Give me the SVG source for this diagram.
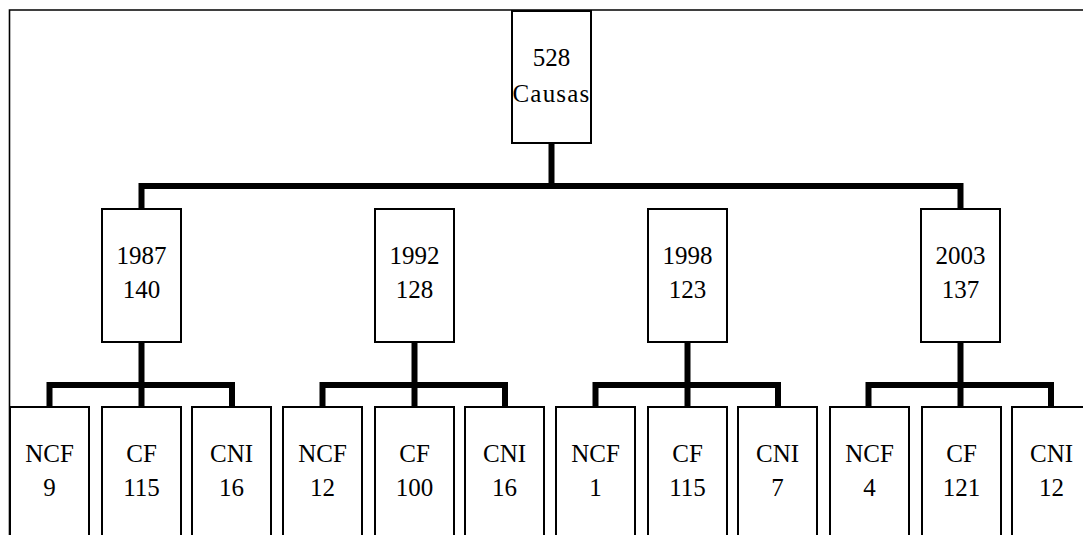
<svg xmlns="http://www.w3.org/2000/svg" width="1083" height="535" viewBox="0 0 1083 535">
<style>
.box{fill:#fff;stroke:#000;stroke-width:2}
.frame{fill:none;stroke:#000;stroke-width:1.6}
.bus{fill:none;stroke:#000;stroke-width:6;stroke-linejoin:miter;stroke-linecap:square}
text{font-family:"Liberation Serif","Times New Roman",serif;font-size:25px;fill:#000;text-anchor:middle}
</style>
<rect width="1083" height="535" fill="#fff"/>
<path class="frame" d="M9.5,535 V10 H1083"/>
<g id="connectors">
<path class="bus" d="M551.5,143 V186"/>
<path class="bus" d="M141.5,207 V186 H960.5 V207"/>
<path class="bus" d="M141.5,342 V405"/>
<path class="bus" d="M49.5,405 V385 H232 V405"/>
<path class="bus" d="M414.5,342 V405"/>
<path class="bus" d="M322.5,405 V385 H505 V405"/>
<path class="bus" d="M687.5,342 V405"/>
<path class="bus" d="M595.5,405 V385 H778 V405"/>
<path class="bus" d="M960.5,342 V405"/>
<path class="bus" d="M868.5,405 V385 H1051 V405"/>
</g>
<g id="root"><rect class="box" x="512" y="11" width="79" height="132"/><text x="551.5" y="66">528</text><text x="551.5" y="102" letter-spacing="1.2">Causas</text></g>
<g id="y1987"><rect class="box" x="102" y="209" width="79" height="133"/><text x="141.5" y="264">1987</text><text x="141.5" y="298">140</text></g>
<g id="y1992"><rect class="box" x="375" y="209" width="79" height="133"/><text x="414.5" y="264">1992</text><text x="414.5" y="298">128</text></g>
<g id="y1998"><rect class="box" x="648" y="209" width="79" height="133"/><text x="687.5" y="264">1998</text><text x="687.5" y="298">123</text></g>
<g id="y2003"><rect class="box" x="921" y="209" width="79" height="133"/><text x="960.5" y="264">2003</text><text x="960.5" y="298">137</text></g>
<g id="n1987ncf"><rect class="box" x="10" y="407" width="79" height="140"/><text x="49.5" y="462">NCF</text><text x="49.5" y="496">9</text></g>
<g id="n1987cf"><rect class="box" x="102" y="407" width="79" height="140"/><text x="141.5" y="462">CF</text><text x="141.5" y="496">115</text></g>
<g id="n1987cni"><rect class="box" x="192" y="407" width="79" height="140"/><text x="231.5" y="462">CNI</text><text x="231.5" y="496">16</text></g>
<g id="n1992ncf"><rect class="box" x="283" y="407" width="79" height="140"/><text x="322.5" y="462">NCF</text><text x="322.5" y="496">12</text></g>
<g id="n1992cf"><rect class="box" x="375" y="407" width="79" height="140"/><text x="414.5" y="462">CF</text><text x="414.5" y="496">100</text></g>
<g id="n1992cni"><rect class="box" x="465" y="407" width="79" height="140"/><text x="504.5" y="462">CNI</text><text x="504.5" y="496">16</text></g>
<g id="n1998ncf"><rect class="box" x="556" y="407" width="79" height="140"/><text x="595.5" y="462">NCF</text><text x="595.5" y="496">1</text></g>
<g id="n1998cf"><rect class="box" x="648" y="407" width="79" height="140"/><text x="687.5" y="462">CF</text><text x="687.5" y="496">115</text></g>
<g id="n1998cni"><rect class="box" x="738" y="407" width="79" height="140"/><text x="777.5" y="462">CNI</text><text x="777.5" y="496">7</text></g>
<g id="n2003ncf"><rect class="box" x="830" y="407" width="79" height="140"/><text x="869.5" y="462">NCF</text><text x="869.5" y="496">4</text></g>
<g id="n2003cf"><rect class="box" x="922" y="407" width="79" height="140"/><text x="961.5" y="462">CF</text><text x="961.5" y="496">121</text></g>
<g id="n2003cni"><rect class="box" x="1012" y="407" width="79" height="140"/><text x="1051.5" y="462">CNI</text><text x="1051.5" y="496">12</text></g>
</svg>
